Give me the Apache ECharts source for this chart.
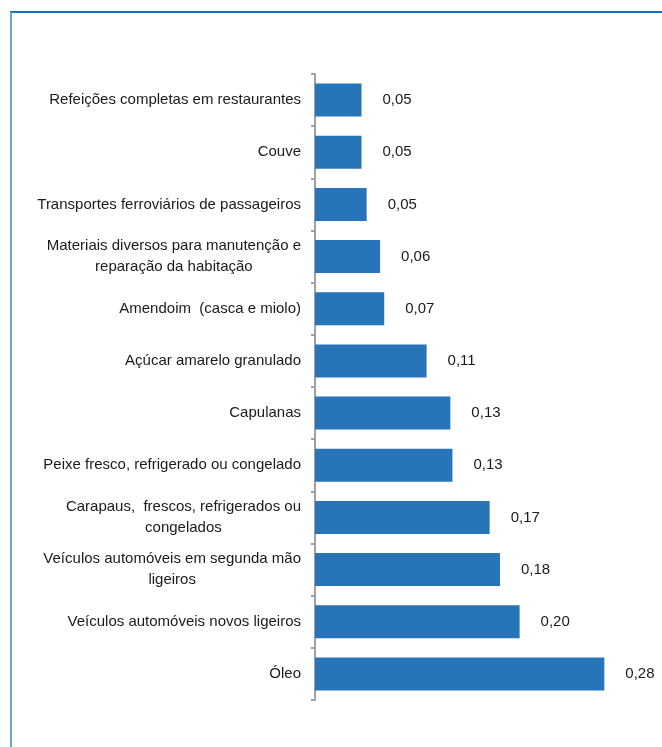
<!DOCTYPE html>
<html>
<head>
<meta charset="utf-8">
<script src="https://cdn.jsdelivr.net/npm/echarts@6/dist/echarts.min.js"></script>
<style>
  html, body { margin: 0; padding: 0; background: #fff; }
  #chart { width: 662px; height: 747px; }
</style>
</head>
<body>
<div id="chart"></div>
<script>
// categorias (de cima para baixo)
var categories = [
  'Refeições completas em restaurantes',
  'Couve',
  'Transportes ferroviários de passageiros',
  'Materiais diversos para manutenção e\nreparação da habitação',
  'Amendoim  (casca e miolo)',
  'Açúcar amarelo granulado',
  'Capulanas',
  'Peixe fresco, refrigerado ou congelado',
  'Carapaus,  frescos, refrigerados ou\ncongelados',
  'Veículos automóveis em segunda mão\nligeiros',
  'Veículos automóveis novos ligeiros',
  'Óleo'
]
// comprimento das barras
var values = [0.045, 0.045, 0.05, 0.063, 0.067, 0.108, 0.131, 0.133, 0.169, 0.179, 0.198, 0.28]
// rótulos mostrados
var valueLabels = ['0,05', '0,05', '0,05', '0,06', '0,07', '0,11', '0,13', '0,13', '0,17', '0,18', '0,20', '0,28']

var font = "'Liberation Sans Narrow', 'Arial Narrow', 'Liberation Sans', Arial, sans-serif"

var myChart = echarts.init(document.getElementById('chart'))
var option = {
  animation: false,
  grid: {
    left: 315,
    top: 74,
    bottom: 47,
    width: 310
  },
  graphic: [
    {
      type: 'line',
      shape: { x1: 10, y1: 12, x2: 662, y2: 12 },
      style: { stroke: '#1470C4', lineWidth: 2 }
    },
    {
      type: 'line',
      shape: { x1: 11, y1: 12, x2: 11, y2: 747 },
      style: { stroke: '#6FA3D8', lineWidth: 2 }
    }
  ],
  xAxis: {
    type: 'value',
    min: 0,
    max: 0.3,
    show: false
  },
  yAxis: {
    type: 'category',
    inverse: true,
    data: categories,
    axisLine: { lineStyle: { color: '#A0A0A0', width: 2 } },
    axisTick: { show: true, length: 4, lineStyle: { color: '#A0A0A0', width: 2 } },
    axisLabel: {
      margin: 14,
      formatter: function (v) {
        return v.split('\n').map(function (s) { return '{c|' + s + '}' }).join('\n')
      },
      rich: {
        c: {
          align: 'center',
          fontFamily: font,
          fontSize: 15,
          lineHeight: 21,
          color: '#1a1a1a'
        }
      }
    }
  },
  series: [
    {
      type: 'bar',
      data: values,
      barWidth: 33,
      itemStyle: { color: '#2874B8' },
      label: {
        show: true,
        position: 'right',
        distance: 21,
        fontFamily: font,
        fontSize: 15,
        color: '#1a1a1a',
        formatter: function (p) { return valueLabels[p.dataIndex] }
      }
    }
  ]
}
myChart.setOption(option)
</script>
</body>
</html>
